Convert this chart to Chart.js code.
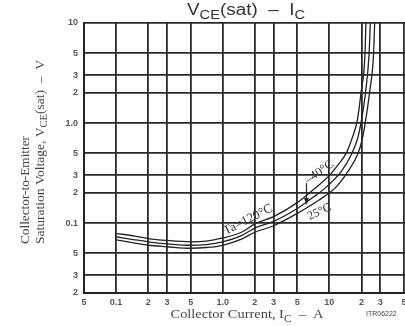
<!DOCTYPE html>
<html>
<head>
<meta charset="utf-8">
<script src="https://cdn.jsdelivr.net/npm/chart.js@4.4.1/dist/chart.umd.min.js"></script>
<style>
  html, body { margin: 0; padding: 0; background: #fff; overflow: hidden; }
  #wrap { width: 440px; height: 326px; }
</style>
</head>
<body>
<div id="wrap"><canvas id="chart" width="440" height="326"></canvas></div>
<script>
// Collector current (A) and VCE(sat) (V) per ambient temperature
const ic120 = [0.1, 0.15, 0.2, 0.3, 0.5, 0.7, 1, 1.5, 2, 3, 5, 7.6, 10, 12, 14.4, 16.3, 18.3, 19.8, 21.6, 22];
const vce120 = [0.079, 0.074, 0.070, 0.067, 0.065, 0.066, 0.071, 0.081, 0.098, 0.116, 0.16, 0.23, 0.30, 0.38, 0.5, 0.7, 1.07, 2.0, 5.0, 10];
const icM40 = [0.1, 0.15, 0.2, 0.3, 0.5, 0.7, 1, 1.5, 2, 3, 5, 7, 9.4, 13, 16.3, 18.4, 20, 21.8, 23.6, 24.2];
const vceM40 = [0.073, 0.068, 0.065, 0.062, 0.060, 0.061, 0.065, 0.075, 0.089, 0.104, 0.14, 0.18, 0.23, 0.33, 0.5, 0.7, 1.07, 2.0, 5.0, 10];
const ic25 = [0.1, 0.15, 0.2, 0.3, 0.5, 0.7, 1, 1.5, 2, 3, 5, 8, 11.6, 15, 18.6, 20.4, 21.9, 23.8, 26, 26.6];
const vce25 = [0.068, 0.063, 0.060, 0.058, 0.056, 0.057, 0.060, 0.069, 0.081, 0.094, 0.125, 0.17, 0.23, 0.33, 0.5, 0.7, 1.07, 2.0, 5.0, 10];

const xTicks = [0.05, 0.1, 0.2, 0.3, 0.5, 1, 2, 3, 5, 10, 20, 30, 50, 100];
const xTickLabels = ['5', '0.1', '2', '3', '5', '1.0', '2', '3', '5', '10', '2', '3', '5', ''];
const yTicks = [0.02, 0.03, 0.05, 0.1, 0.2, 0.3, 0.5, 1, 2, 3, 5, 10];
const yTickLabels = ['2', '3', '5', '0.1', '2', '3', '5', '1.0', '2', '3', '5', '10'];

// curve labels, placed in data coordinates
const curveLabels = [
  { text: 'Ta=120°C', x: 1.73, y: 0.108, angle: -27, size: 13 },
  { text: '–40°C', x: 8.07, y: 0.324, angle: -35, size: 12.5 },
  { text: '25°C', x: 8.07, y: 0.129, angle: -25, size: 12 }
];
const arrow = { x: 6.1, from: 0.251, to: 0.152 };

const toPoints = (xs, ys) => xs.map((x, i) => ({ x: x, y: ys[i] }));

const lineStyle = {
  showLine: true,
  borderColor: '#222',
  borderWidth: 1.3,
  pointRadius: 0,
  cubicInterpolationMode: 'monotone',
  fill: false
};

const serif = '"Liberation Serif", "Times New Roman", serif';
const sans = '"Liberation Sans", Arial, sans-serif';

// text with subscripts, squeezed/stretched to a given width along its baseline
function drawRich(ctx, parts, x, y, size, family, align, width) {
  const subSize = size * 0.78;
  let total = 0;
  parts.forEach(p => {
    ctx.font = (p.sub ? subSize : size) + 'px ' + family;
    p.w = ctx.measureText(p.t).width;
    total += p.w;
  });
  const k = width ? width / total : 1;
  ctx.save();
  ctx.translate(x, y);
  ctx.scale(k, 1);
  let cx = align === 'center' ? -total / 2 : 0;
  ctx.textAlign = 'left';
  ctx.textBaseline = 'alphabetic';
  parts.forEach(p => {
    ctx.font = (p.sub ? subSize : size) + 'px ' + family;
    ctx.fillText(p.t, cx, p.sub ? size * 0.28 : 0);
    cx += p.w;
  });
  ctx.restore();
}

const decorations = {
  id: 'decorations',
  afterDraw(chart) {
    const ctx = chart.ctx;
    const xs = chart.scales.x, ys = chart.scales.y;
    ctx.save();
    ctx.fillStyle = '#333';

    // title
    drawRich(ctx, [{ t: 'V' }, { t: 'CE', sub: true }, { t: '(sat)  –  I' }, { t: 'C', sub: true }],
      246, 15, 16, sans, 'center', 118);

    // x axis title
    ctx.fillStyle = '#444';
    drawRich(ctx, [{ t: 'Collector Current, I' }, { t: 'C', sub: true }, { t: '  –  A' }],
      247, 318, 12.5, serif, 'center', 153);

    ctx.font = '7px ' + sans;
    ctx.textAlign = 'left';
    ctx.fillText('ITR06222', 366, 316);

    // y axis title, two rotated lines
    ctx.save();
    ctx.translate(29, 244);
    ctx.rotate(-Math.PI / 2);
    drawRich(ctx, [{ t: 'Collector-to-Emitter' }], 0, 0, 12, serif, 'left', 108);
    ctx.restore();
    ctx.save();
    ctx.translate(44, 244);
    ctx.rotate(-Math.PI / 2);
    drawRich(ctx, [{ t: 'Saturation Voltage, V' }, { t: 'CE', sub: true }, { t: '(sat)  –  V' }],
      0, 0, 12, serif, 'left', 184);
    ctx.restore();

    // curve labels
    ctx.fillStyle = '#333';
    curveLabels.forEach(l => {
      ctx.save();
      ctx.translate(xs.getPixelForValue(l.x), ys.getPixelForValue(l.y));
      ctx.rotate(l.angle * Math.PI / 180);
      ctx.font = l.size + 'px ' + serif;
      ctx.textAlign = 'center';
      ctx.textBaseline = 'middle';
      ctx.fillText(l.text, 0, 0);
      ctx.restore();
    });

    // arrow
    const ax = xs.getPixelForValue(arrow.x);
    const ay1 = ys.getPixelForValue(arrow.from);
    const ay2 = ys.getPixelForValue(arrow.to);
    ctx.strokeStyle = '#222';
    ctx.lineWidth = 1.2;
    ctx.beginPath();
    ctx.moveTo(ax, ay1);
    ctx.lineTo(ax, ay2 - 4);
    ctx.stroke();
    ctx.beginPath();
    ctx.moveTo(ax, ay2);
    ctx.lineTo(ax - 2.5, ay2 - 7);
    ctx.lineTo(ax + 2.5, ay2 - 7);
    ctx.closePath();
    ctx.fillStyle = '#222';
    ctx.fill();
    ctx.restore();
  }
};

const ctx = document.getElementById('chart').getContext('2d');
new Chart(ctx, {
  type: 'scatter',
  data: {
    datasets: [
      Object.assign({ label: 'Ta=120°C', data: toPoints(ic120, vce120) }, lineStyle),
      Object.assign({ label: '-40°C', data: toPoints(icM40, vceM40) }, lineStyle),
      Object.assign({ label: '25°C', data: toPoints(ic25, vce25) }, lineStyle)
    ]
  },
  options: {
    responsive: false,
    animation: false,
    layout: { padding: { top: 23, left: 0, right: 0, bottom: 0 } },
    plugins: { legend: { display: false }, tooltip: { enabled: false } },
    scales: {
      x: {
        type: 'logarithmic',
        min: 0.05,
        max: 100,
        afterBuildTicks: s => { s.ticks = xTicks.map(v => ({ value: v })); },
        afterFit: s => { s.height = 33; },
        ticks: {
          autoSkip: false,
          maxRotation: 0,
          padding: 4,
          color: '#555',
          font: { family: sans, size: 9, weight: 'bold' },
          callback: (v, i) => xTickLabels[i]
        },
        grid: { color: '#2a2a2a', lineWidth: 1.8, drawTicks: false },
        border: { color: '#222', width: 2 }
      },
      y: {
        type: 'logarithmic',
        min: 0.02,
        max: 10,
        afterBuildTicks: s => { s.ticks = yTicks.map(v => ({ value: v })); },
        afterFit: s => { s.width = 84; },
        ticks: {
          autoSkip: false,
          padding: 6,
          color: '#555',
          font: { family: sans, size: 9, weight: 'bold' },
          callback: (v, i) => yTickLabels[i]
        },
        grid: { color: '#2a2a2a', lineWidth: 1.8, drawTicks: false },
        border: { color: '#222', width: 2 }
      }
    }
  },
  plugins: [decorations]
});
</script>
</body>
</html>
